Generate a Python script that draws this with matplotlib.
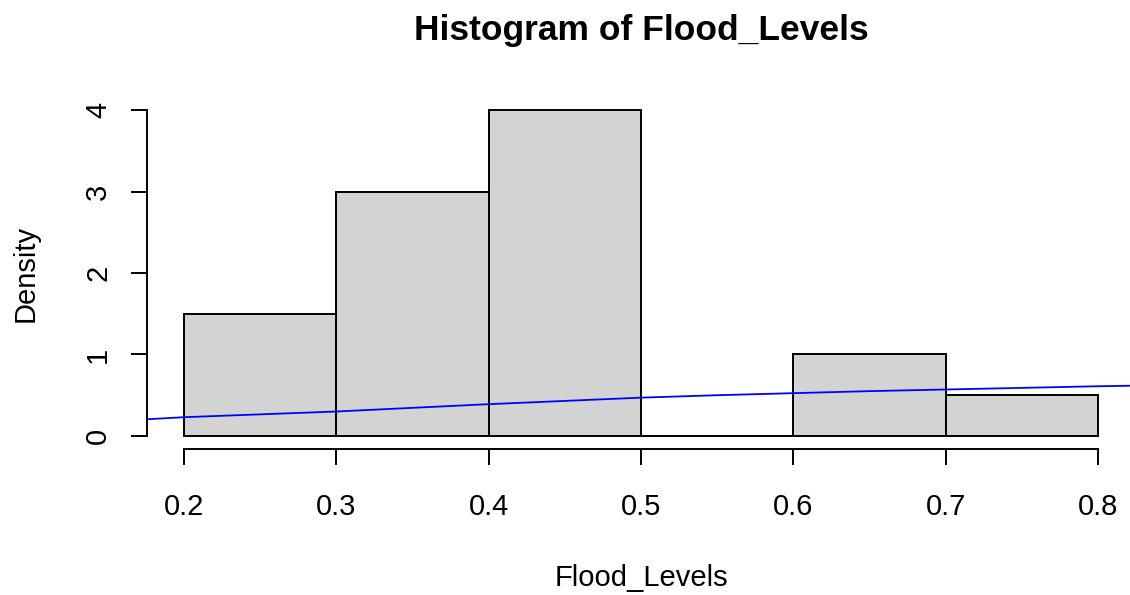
import matplotlib.pyplot as plt

# ---- DATA ---- #
bin_edges = [0.2, 0.3, 0.4, 0.5, 0.6, 0.7, 0.8]
densities = [1.5, 3.0, 4.0, 0.0, 1.0, 0.5]

# blue curve
curve_x = [0.176, 0.2, 0.25, 0.3, 0.35, 0.4, 0.45, 0.5, 0.55, 0.6, 0.65,
           0.7, 0.75, 0.8, 0.824]
curve_y = [0.205, 0.23, 0.265, 0.30, 0.345, 0.39, 0.43, 0.47, 0.50, 0.525,
           0.55, 0.57, 0.59, 0.61, 0.617]

xticks = [0.2, 0.3, 0.4, 0.5, 0.6, 0.7, 0.8]
yticks = [0, 1, 2, 3, 4]

plt.rcParams['font.family'] = ['Liberation Sans', 'DejaVu Sans']

# ---- FIGURE ---- #
fig = plt.figure(figsize=(11.3, 5.95), dpi=100)
ax = fig.add_axes([0.1305, 0.2454, 0.8735, 0.5916])

lefts = bin_edges[:-1]
widths = [b - a for a, b in zip(bin_edges[:-1], bin_edges[1:])]
ax.bar(lefts, densities, width=widths, align='edge', color='#D3D3D3',
       edgecolor='black', linewidth=1.4)
ax.plot(curve_x, curve_y, color='blue', linewidth=1.3)

ax.set_xlim(0.176, 0.824)
ax.set_ylim(-0.16, 4.16)

# ---- R-STYLE AXES ---- #
for s in ['top', 'right']:
    ax.spines[s].set_visible(False)
ax.spines['left'].set_bounds(0, 4)
ax.spines['bottom'].set_bounds(0.2, 0.8)
ax.spines['left'].set_linewidth(1.4)
ax.spines['bottom'].set_linewidth(1.4)

ax.set_xticks(xticks)
ax.set_xticklabels([f'{t:.1f}' for t in xticks])
ax.set_yticks(yticks)
ax.set_yticklabels([str(t) for t in yticks], rotation=90, va='center')
ax.tick_params(axis='both', direction='out', length=11.5, width=1.4,
               labelsize=21)
ax.tick_params(axis='x', pad=20)
ax.tick_params(axis='y', pad=14)

ax.set_title('Histogram of Flood_Levels', fontsize=25.5, fontweight='bold',
             pad=41)
ax.set_xlabel('Flood_Levels', fontsize=21, labelpad=31)
ax.set_ylabel('Density', fontsize=21, labelpad=32)

fig.savefig('out.png', dpi=100)
